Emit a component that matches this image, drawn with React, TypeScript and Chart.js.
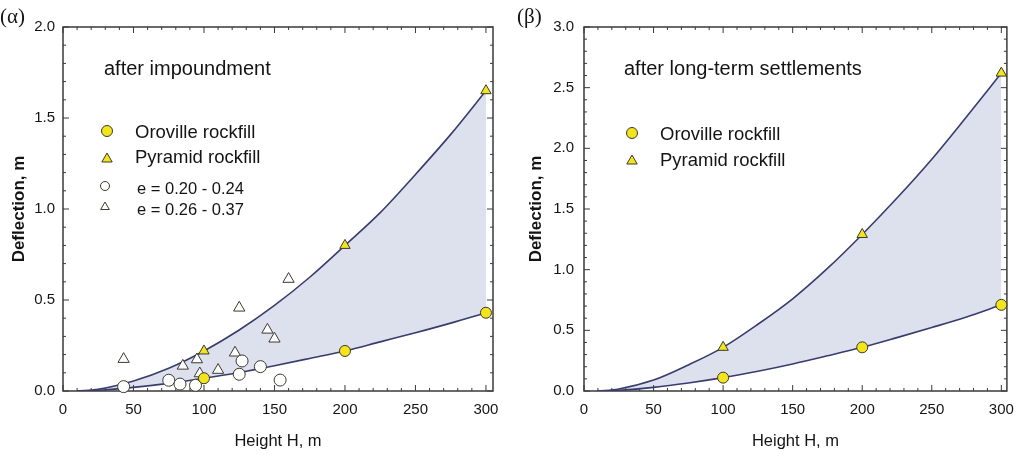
import React, { useEffect, useRef } from "react";
import { Chart, registerables } from "chart.js";
import { drawPoint } from "chart.js/helpers";
Chart.register(...registerables);

// ---------- data ----------
const X_TICKS = [0, 50, 100, 150, 200, 250, 300];
const Y_TICKS_A = [0, 0.5, 1.0, 1.5, 2.0];
const Y_TICKS_B = [0, 0.5, 1.0, 1.5, 2.0, 2.5, 3.0];

// panel (α) after impoundment
const OPEN_CIRCLE_H = [43, 75, 83, 94, 125, 127, 140, 154];
const OPEN_CIRCLE_D = [0.024, 0.059, 0.038, 0.031, 0.092, 0.165, 0.134, 0.06];
const OPEN_TRI_H = [43, 85, 95, 97, 110, 122, 125, 145, 150, 160];
const OPEN_TRI_D = [0.175, 0.138, 0.173, 0.096, 0.115, 0.21, 0.457, 0.336, 0.287, 0.615];
const ROCKFILL_H = [100, 200, 300];
const OROVILLE_D_A = [0.07, 0.22, 0.43];
const PYRAMID_D_A = [0.22, 0.8, 1.65];

// panel (β) after long-term settlements
const OROVILLE_D_B = [0.11, 0.36, 0.71];
const PYRAMID_D_B = [0.36, 1.29, 2.62];

// envelope curves (read at these heights)
const CURVE_H = [10, 25, 50, 75, 100, 125, 150, 175, 200, 225, 250, 275, 300];
const UPPER_A = [0, 0.01, 0.055, 0.125, 0.22, 0.335, 0.47, 0.625, 0.8, 0.98, 1.19, 1.41, 1.65];
const LOWER_A = [0, 0.004, 0.02, 0.042, 0.07, 0.102, 0.139, 0.179, 0.22, 0.27, 0.32, 0.373, 0.43];
const UPPER_B = [0, 0.017, 0.09, 0.215, 0.36, 0.55, 0.76, 1.01, 1.29, 1.59, 1.91, 2.26, 2.62];
const LOWER_B = [0, 0.006, 0.03, 0.066, 0.11, 0.163, 0.223, 0.29, 0.36, 0.44, 0.523, 0.61, 0.71];

// ---------- styles ----------
const FONT = "'Liberation Sans', Arial, Helvetica, sans-serif";
const YELLOW = "#f3e41c";
const MARKER_EDGE = "#3a3a30";
const CURVE = "#393c6c";
const BAND = "#dde1ee";
const AXIS = "#3a3a3a";
const TEXT = "#141414";

const zip = (xs: number[], ys: number[]) => xs.map((x, i) => ({ x, y: ys[i] }));

type LegendItem = { style: string; fill: string; r: number; mx: number; my: number; text: string; tx: number; ty: number; size: number };
type Spec = {
  panel: string;
  panelX: number;
  note: string;
  noteX: number;
  xMax: number;
  yMax: number;
  yTicks: number[];
  yWidth: number;
  yTitlePad: number;
  yTickPad: number;
  padRight: number;
  open: boolean;
  oroville: number[];
  pyramid: number[];
  upper: number[];
  lower: number[];
  legend: LegendItem[];
};

const SPEC_A: Spec = {
  panel: "(α)",
  panelX: 0,
  note: "after impoundment",
  noteX: 104,
  xMax: 305,
  yMax: 2.0,
  yTicks: Y_TICKS_A,
  yWidth: 63,
  yTitlePad: 8.8,
  yTickPad: 8,
  padRight: 19,
  open: true,
  oroville: OROVILLE_D_A,
  pyramid: PYRAMID_D_A,
  upper: UPPER_A,
  lower: LOWER_A,
  legend: [
    { style: "circle", fill: YELLOW, r: 5.5, mx: 107, my: 131, text: "Oroville rockfill", tx: 135, ty: 138, size: 18.5 },
    { style: "triangle", fill: YELLOW, r: 6, mx: 107, my: 159, text: "Pyramid rockfill", tx: 135, ty: 163, size: 18.5 },
    { style: "circle", fill: "#ffffff", r: 4.5, mx: 105, my: 186, text: "e = 0.20 - 0.24", tx: 137, ty: 194, size: 16.5 },
    { style: "triangle", fill: "#ffffff", r: 5, mx: 105, my: 207, text: "e = 0.26 - 0.37", tx: 137, ty: 215, size: 16.5 },
  ],
};

const SPEC_B: Spec = {
  panel: "(β)",
  panelX: 5,
  note: "after long-term settlements",
  noteX: 112,
  xMax: 304,
  yMax: 3.0,
  yTicks: Y_TICKS_B,
  yWidth: 72,
  yTitlePad: 13.8,
  yTickPad: 10,
  padRight: 12,
  open: false,
  oroville: OROVILLE_D_B,
  pyramid: PYRAMID_D_B,
  upper: UPPER_B,
  lower: LOWER_B,
  legend: [
    { style: "circle", fill: YELLOW, r: 5.5, mx: 120, my: 133, text: "Oroville rockfill", tx: 148, ty: 140, size: 18.5 },
    { style: "triangle", fill: YELLOW, r: 6, mx: 120, my: 161, text: "Pyramid rockfill", tx: 148, ty: 166, size: 18.5 },
  ],
};

function makePlugin(spec: Spec) {
  return {
    id: "frameAndNotes",
    beforeDatasetsDraw(chart: any) {
      const { ctx, chartArea } = chart;
      const xs = chart.scales.x;
      const ys = chart.scales.y;
      const { left, right, top, bottom } = chartArea;
      ctx.save();
      ctx.strokeStyle = AXIS;
      ctx.lineWidth = 1.5;
      ctx.strokeRect(left, top, right - left, bottom - top);
      ctx.lineWidth = 1;
      ctx.beginPath();
      for (let i = 0; i <= 30; i++) {
        const v = i * 10;
        const len = i % 5 === 0 ? 6 : 3;
        const px = xs.getPixelForValue(v);
        ctx.moveTo(px, bottom);
        ctx.lineTo(px, bottom - len);
        ctx.moveTo(px, top);
        ctx.lineTo(px, top + len);
      }
      const n = Math.round(spec.yMax * 10);
      for (let i = 0; i <= n; i++) {
        const v = i / 10;
        const len = i % 5 === 0 ? 6 : 3;
        const py = ys.getPixelForValue(v);
        ctx.moveTo(left, py);
        ctx.lineTo(left + len, py);
        ctx.moveTo(right, py);
        ctx.lineTo(right - len, py);
      }
      ctx.stroke();
      ctx.restore();
    },
    afterDatasetsDraw(chart: any) {
      const { ctx } = chart;
      ctx.save();
      ctx.fillStyle = TEXT;
      ctx.textAlign = "left";
      ctx.textBaseline = "middle";
      ctx.font = `21px 'Liberation Serif', 'Times New Roman', serif`;
      ctx.fillText(spec.panel, spec.panelX, 17);
      ctx.textBaseline = "alphabetic";
      ctx.font = `20px ${FONT}`;
      ctx.fillText(spec.note, spec.noteX, 75);
      for (const it of spec.legend) {
        ctx.fillStyle = it.fill;
        ctx.strokeStyle = MARKER_EDGE;
        ctx.lineWidth = 1;
        drawPoint(ctx, { pointStyle: it.style, rotation: 0, radius: it.r, borderWidth: 1 } as any, it.mx, it.my);
        ctx.fillStyle = TEXT;
        ctx.font = `${it.size}px ${FONT}`;
        ctx.fillText(it.text, it.tx, it.ty);
      }
      ctx.restore();
    },
  };
}

function buildConfig(spec: Spec): any {
  const pointDefaults = { showLine: false, clip: false as any, borderWidth: 1, pointBorderColor: MARKER_EDGE };
  const datasets: any[] = [
    {
      label: "Oroville rockfill",
      data: zip(ROCKFILL_H, spec.oroville),
      ...pointDefaults,
      pointStyle: "circle",
      pointRadius: 5.5,
      pointBackgroundColor: YELLOW,
    },
    {
      label: "Pyramid rockfill",
      data: zip(ROCKFILL_H, spec.pyramid),
      ...pointDefaults,
      pointStyle: "triangle",
      pointRadius: 6,
      pointBackgroundColor: YELLOW,
    },
  ];
  if (spec.open) {
    datasets.push(
      {
        label: "e = 0.20 - 0.24",
        data: zip(OPEN_CIRCLE_H, OPEN_CIRCLE_D),
        ...pointDefaults,
        pointStyle: "circle",
        pointRadius: 6,
        pointBackgroundColor: "#ffffff",
      },
      {
        label: "e = 0.26 - 0.37",
        data: zip(OPEN_TRI_H, OPEN_TRI_D),
        ...pointDefaults,
        pointStyle: "triangle",
        pointRadius: 6.5,
        pointBackgroundColor: "#ffffff",
      }
    );
  }
  datasets.push(
    {
      label: "upper envelope",
      data: zip(CURVE_H, spec.upper),
      borderColor: CURVE,
      borderWidth: 1.6,
      backgroundColor: BAND,
      fill: "+1",
      pointRadius: 0,
      cubicInterpolationMode: "monotone",
    },
    {
      label: "lower envelope",
      data: zip(CURVE_H, spec.lower),
      borderColor: CURVE,
      borderWidth: 1.6,
      fill: false,
      pointRadius: 0,
      cubicInterpolationMode: "monotone",
    }
  );

  return {
    type: "line",
    data: { datasets },
    options: {
      animation: false,
      responsive: false,
      devicePixelRatio: 1,
      layout: { padding: { left: 0, top: 27, right: spec.padRight, bottom: 0 } },
      plugins: {
        legend: { display: false },
        tooltip: { enabled: false },
        filler: { drawTime: "beforeDatasetsDraw" },
      },
      scales: {
        x: {
          type: "linear",
          min: 0,
          max: spec.xMax,
          grid: { display: false, drawTicks: false },
          border: { display: false },
          afterBuildTicks: (s: any) => {
            s.ticks = X_TICKS.map((v) => ({ value: v }));
          },
          afterFit: (s: any) => {
            s.height = 76;
          },
          ticks: {
            padding: 10,
            color: TEXT,
            font: { family: FONT, size: 15 },
            maxRotation: 0,
            autoSkip: false,
            callback: (v: any) => String(v),
          },
          title: {
            display: true,
            text: "Height H, m",
            color: TEXT,
            font: { family: FONT, size: 16.5 },
            padding: { top: 0, bottom: 16 },
          },
        },
        y: {
          type: "linear",
          min: 0,
          max: spec.yMax,
          grid: { display: false, drawTicks: false },
          border: { display: false },
          afterBuildTicks: (s: any) => {
            s.ticks = spec.yTicks.map((v) => ({ value: v }));
          },
          afterFit: (s: any) => {
            s.width = spec.yWidth;
          },
          ticks: {
            padding: spec.yTickPad,
            color: TEXT,
            font: { family: FONT, size: 15 },
            autoSkip: false,
            callback: (v: any) => Number(v).toFixed(1),
          },
          title: {
            display: true,
            text: "Deflection, m",
            color: TEXT,
            font: { family: FONT, size: 17, weight: "bold" },
            padding: { top: spec.yTitlePad, bottom: 0 },
          },
        },
      },
    },
    plugins: [makePlugin(spec)],
  };
}

function Panel({ spec, left }: { spec: Spec; left: number }) {
  const ref = useRef<HTMLCanvasElement | null>(null);
  useEffect(() => {
    if (!ref.current) return;
    const chart = new Chart(ref.current, buildConfig(spec));
    return () => chart.destroy();
  }, [spec]);
  return (
    <div style={{ position: "absolute", left, top: 0, width: 512, height: 467 }}>
      <canvas ref={ref} width={512} height={467} style={{ width: 512, height: 467, display: "block" }} />
    </div>
  );
}

export default function App() {
  return (
    <div style={{ position: "fixed", left: 0, top: 0, width: 1024, height: 467, background: "#ffffff", overflow: "hidden" }}>
      <Panel spec={SPEC_A} left={0} />
      <Panel spec={SPEC_B} left={512} />
    </div>
  );
}
